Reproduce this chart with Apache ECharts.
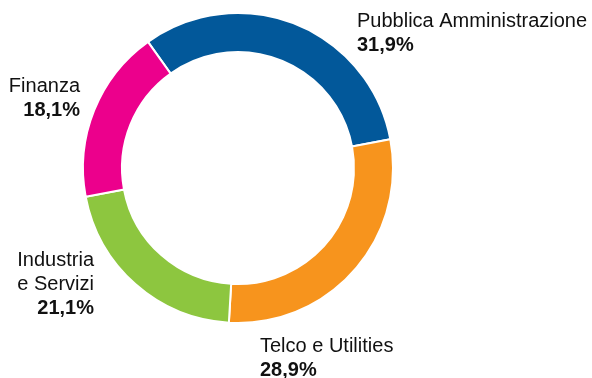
<!DOCTYPE html>
<html>
<head>
<meta charset="utf-8">
<script src="https://cdn.jsdelivr.net/npm/echarts@6/dist/echarts.min.js"></script>
<style>
  html, body { margin: 0; padding: 0; background: #fff; }
  #chart { width: 592px; height: 378px; }
</style>
</head>
<body>
<div id="chart"></div>
<script>
// Market share by sector (percent)
const categories = ['Pubblica Amministrazione', 'Telco e Utilities', 'Industria\ne Servizi', 'Finanza'];
const shares = [31.9, 28.9, 21.1, 18.1];
const colors = ['#02589A', '#F7941D', '#8DC63F', '#EC008C'];

// Label block placement: [x, top y, text alignment]
const labelSpots = [
  [357, 9, 'left'],
  [260, 334, 'left'],
  [94, 248, 'right'],
  [80, 74, 'right']
];

const fmt = v => v.toFixed(1).replace('.', ',') + '%';
const FONT = 'Liberation Sans, Arial, sans-serif';

const chart = echarts.init(document.getElementById('chart'), null, { renderer: 'canvas' });
chart.setOption({
  animation: false,
  series: [{
    type: 'pie',
    center: [238, 168],
    radius: [116, 155],
    startAngle: 125.5,
    clockwise: true,
    avoidLabelOverlap: false,
    itemStyle: { borderColor: '#ffffff', borderWidth: 2 },
    label: {
      show: true,
      position: 'outside',
      color: '#111',
      fontFamily: FONT,
      formatter: p => {
        const lines = p.name.split('\n').map(s => '{n|' + s + '}');
        return lines.join('\n') + '\n{v|' + fmt(p.value) + '}';
      },
      rich: {
        n: { fontSize: 20, lineHeight: 24, color: '#111', fontFamily: FONT },
        v: { fontSize: 20, lineHeight: 24, fontWeight: 'bold', color: '#111', fontFamily: FONT }
      }
    },
    labelLine: { show: false },
    labelLayout: p => {
      const s = labelSpots[p.dataIndex];
      return { x: s[0], y: s[1], align: s[2], verticalAlign: 'top' };
    },
    data: categories.map((c, i) => ({ name: c, value: shares[i], itemStyle: { color: colors[i] } }))
  }]
});
</script>
</body>
</html>
